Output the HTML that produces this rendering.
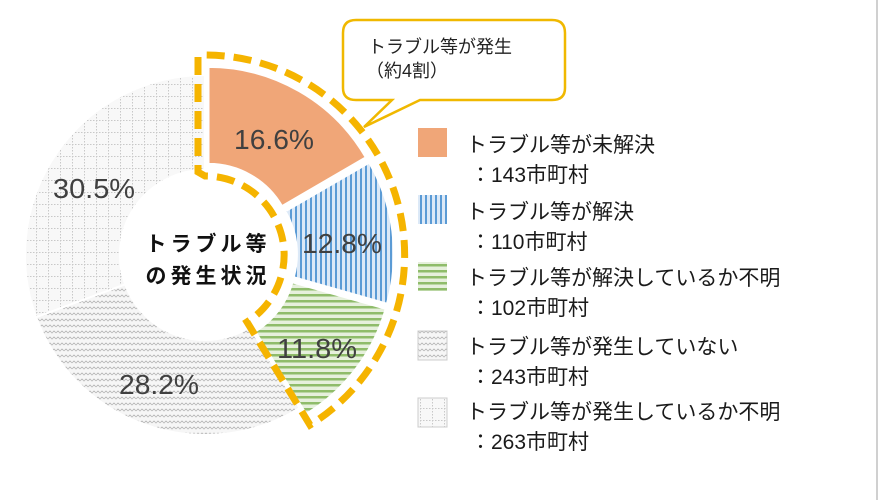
<!DOCTYPE html>
<html><head><meta charset="utf-8"><style>
body{margin:0;background:#fff;}
svg{display:block;font-family:"Liberation Sans","Noto Sans CJK JP",sans-serif;}
</style></head><body>
<svg width="878" height="500" viewBox="0 0 878 500" xmlns="http://www.w3.org/2000/svg">
<defs>
<pattern id="pb" width="5" height="5" patternUnits="userSpaceOnUse"><rect width="5" height="5" fill="#dce9f7"/><rect width="2" height="5" fill="#5b9bd5"/></pattern>
<pattern id="pg" width="6" height="6" patternUnits="userSpaceOnUse"><rect width="6" height="6" fill="#e6f0dc"/><rect width="6" height="2.5" fill="#8fbc6a"/></pattern>
<pattern id="pw" width="8" height="6" patternUnits="userSpaceOnUse"><rect width="8" height="6" fill="#f6f6f6"/><path d="M0 3 L2 1 L4 3 L6 1 L8 3" stroke="#b8b8b8" stroke-width="0.8" fill="none"/></pattern>
<pattern id="pq" width="12" height="12" patternUnits="userSpaceOnUse"><rect width="12" height="12" fill="#f8f8f8"/><path d="M0 0.5H12M0.5 0V12" stroke="#c8c8c8" stroke-width="1" stroke-dasharray="1.5 1.5" fill="none"/></pattern>
</defs>
<rect x="876" y="0" width="2" height="500" fill="#d0d0d0"/>
<path d="M36.1,317.2 A180,180 0 0 1 205,75 L205,170 A85,85 0 0 0 125.2,284.4 Z" fill="url(#pq)" stroke="#fff" stroke-width="2"/>
<path d="M299.6,408.1 A180,180 0 0 1 36.1,317.2 L125.2,284.4 A85,85 0 0 0 249.7,327.3 Z" fill="url(#pw)" stroke="#fff" stroke-width="2"/>
<path d="M208.5,66.9 A182,182 0 0 1 365.8,157.4 L282,206.1 A85,85 0 0 0 208.5,163.9 Z" fill="#f0a678" stroke="#fff" stroke-width="2"/>
<path d="M369.2,162.6 A182,182 0 0 1 387,303.7 L293.7,277.2 A85,85 0 0 0 285.4,211.3 Z" fill="url(#pb)" stroke="#fff" stroke-width="2"/>
<path d="M385.7,308.8 A182,182 0 0 1 306.2,414 L255.3,331.5 A85,85 0 0 0 292.4,282.3 Z" fill="url(#pg)" stroke="#fff" stroke-width="2"/>
<path d="M198,57 L198,172 L205,176 A79,79 0 0 1 247,322 L310,425 A200,200 0 0 0 205,55 L198,55" fill="none" stroke="#f5b400" stroke-width="7" stroke-dasharray="18 9"/>
<g font-size="28" fill="#404040" lengthAdjust="spacingAndGlyphs">
<text x="234" y="149" textLength="80" lengthAdjust="spacingAndGlyphs">16.6%</text>
<text x="302" y="253" textLength="80" lengthAdjust="spacingAndGlyphs">12.8%</text>
<text x="277" y="358" textLength="80" lengthAdjust="spacingAndGlyphs">11.8%</text>
<text x="119" y="394" textLength="80" lengthAdjust="spacingAndGlyphs">28.2%</text>
<text x="53" y="198" textLength="82" lengthAdjust="spacingAndGlyphs">30.5%</text>
</g>
<g font-size="21" font-weight="bold" fill="#111" text-anchor="middle" letter-spacing="4">
<text x="208" y="251">トラブル等</text>
<text x="208" y="283">の発生状況</text>
</g>
<path d="M356,20 H552 Q565,20 565,33 V88 Q565,100 552,100 H420 L364,127 L392,100 H356 Q343,100 343,88 V33 Q343,20 356,20 Z" fill="#fff" stroke="#f0b800" stroke-width="2.5"/>
<g font-size="18" fill="#222"><text x="368" y="53">トラブル等が発生</text><text x="366" y="77">（約4割）</text></g>
<rect x="418" y="128" width="29" height="29" fill="#f0a678"/>
<rect x="418" y="195" width="29" height="29" fill="url(#pb)"/>
<rect x="418" y="262" width="29" height="29" fill="url(#pg)"/>
<rect x="418" y="331" width="29" height="29" fill="url(#pw)" stroke="#ccc"/>
<rect x="418" y="398" width="29" height="29" fill="url(#pq)" stroke="#ccc"/>
<g font-size="21" fill="#1a1a1a">
<text x="466" y="152">トラブル等が未解決</text><text x="470" y="182">：143市町村</text>
<text x="466" y="219">トラブル等が解決</text><text x="470" y="249">：110市町村</text>
<text x="466" y="285">トラブル等が解決しているか不明</text><text x="470" y="315">：102市町村</text>
<text x="466" y="354">トラブル等が発生していない</text><text x="470" y="384">：243市町村</text>
<text x="466" y="419">トラブル等が発生しているか不明</text><text x="470" y="449">：263市町村</text>
</g>
</svg>
</body></html>
